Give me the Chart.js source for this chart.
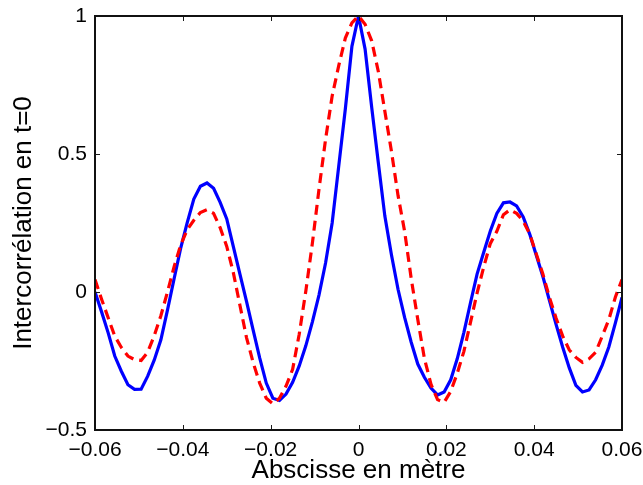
<!DOCTYPE html>
<html>
<head>
<meta charset="utf-8">
<script src="https://cdn.jsdelivr.net/npm/chart.js@4.4.1/dist/chart.umd.min.js"></script>
<style>
  body { margin: 0; background: #fff; }
  #wrap { width: 643px; height: 485px; }
</style>
</head>
<body>
<div id="wrap"><canvas id="myChart" width="643" height="485"></canvas></div>
<script>
// abscissa samples (m), one every 0.0015
var xValues = [];
for (var k = 0; k <= 80; k++) xValues.push(-0.06 + k * 0.0015);

// blue solid curve
var blueValues = [
  0.0, -0.072, -0.148, -0.232, -0.287, -0.336, -0.353, -0.352, -0.305, -0.246,
  -0.173, -0.066, 0.047, 0.158, 0.251, 0.337, 0.383, 0.395, 0.376, 0.325,
  0.265, 0.164, 0.065, -0.034, -0.137, -0.239, -0.330, -0.385, -0.393, -0.370,
  -0.327, -0.268, -0.195, -0.108, -0.011, 0.105, 0.250, 0.456, 0.663, 0.890,
  1.0, 0.880, 0.670, 0.470, 0.275, 0.135, 0.010, -0.092, -0.182, -0.261,
  -0.309, -0.348, -0.373, -0.362, -0.318, -0.241, -0.146, -0.039, 0.065, 0.143,
  0.220, 0.285, 0.323, 0.326, 0.312, 0.272, 0.209, 0.132, 0.055, -0.032,
  -0.118, -0.200, -0.275, -0.338, -0.362, -0.355, -0.318, -0.265, -0.199, -0.112,
  -0.020
];

// red dashed curve
var redValues = [
  0.045, -0.026, -0.093, -0.160, -0.201, -0.232, -0.245, -0.248, -0.218, -0.158,
  -0.086, 0.0, 0.091, 0.170, 0.226, 0.260, 0.288, 0.298, 0.285, 0.233,
  0.165, 0.070, -0.048, -0.165, -0.255, -0.330, -0.385, -0.405, -0.385, -0.341,
  -0.280, -0.153, 0.003, 0.177, 0.372, 0.553, 0.710, 0.820, 0.920, 0.975,
  1.0, 0.970, 0.910, 0.800, 0.655, 0.510, 0.350, 0.220, 0.049, -0.100,
  -0.240, -0.334, -0.390, -0.400, -0.360, -0.294, -0.215, -0.110, -0.004, 0.090,
  0.175, 0.220, 0.280, 0.298, 0.285, 0.257, 0.210, 0.137, 0.064, -0.021,
  -0.095, -0.160, -0.210, -0.237, -0.255, -0.242, -0.218, -0.160, -0.100, -0.018,
  0.045
];

function toPoints(ys) {
  return xValues.map(function (x, i) { return { x: x, y: ys[i] }; });
}

function fmt(v) {
  var s = Number(v.toFixed(2)).toString();
  return s.replace('-', '\u2212');
}

// box around the plot with inward ticks, like matlab
var boxPlugin = {
  id: 'box',
  afterDraw: function (chart) {
    var ctx = chart.ctx;
    var a = chart.chartArea;
    var xs = chart.scales.x, ys = chart.scales.y;
    var len = 5;
    ctx.save();
    ctx.strokeStyle = '#1a1a1a';
    ctx.lineWidth = 1;
    ctx.beginPath();
    xs.ticks.forEach(function (t) {
      var px = Math.round(xs.getPixelForValue(t.value)) + 0.5;
      ctx.moveTo(px, a.bottom); ctx.lineTo(px, a.bottom - len);
      ctx.moveTo(px, a.top); ctx.lineTo(px, a.top + len);
    });
    ys.ticks.forEach(function (t) {
      var py = Math.round(ys.getPixelForValue(t.value)) + 0.5;
      ctx.moveTo(a.left, py); ctx.lineTo(a.left + len, py);
      ctx.moveTo(a.right, py); ctx.lineTo(a.right - len, py);
    });
    ctx.stroke();
    ctx.lineWidth = 2;
    ctx.strokeStyle = '#111';
    ctx.strokeRect(a.left, a.top, a.right - a.left, a.bottom - a.top);
    ctx.restore();
  }
};

var tickFont = { family: 'Liberation Sans', size: 21 };
var titleFont = { family: 'Liberation Sans', size: 26 };

new Chart(document.getElementById('myChart'), {
  type: 'line',
  data: {
    datasets: [
      {
        data: toPoints(redValues),
        borderColor: '#ff0000',
        borderWidth: 3.2,
        borderDash: [10, 6],
        pointRadius: 0,
        tension: 0,
        fill: false
      },
      {
        data: toPoints(blueValues),
        borderColor: '#0000ff',
        borderWidth: 3.2,
        pointRadius: 0,
        tension: 0,
        fill: false
      }
    ]
  },
  options: {
    responsive: false,
    animation: false,
    events: [],
    layout: { padding: { left: 0, right: 21, top: 16, bottom: 0 } },
    plugins: { legend: { display: false }, tooltip: { enabled: false } },
    scales: {
      x: {
        type: 'linear',
        min: -0.06,
        max: 0.06,
        grid: { display: false, drawTicks: false },
        border: { display: false },
        ticks: {
          stepSize: 0.02,
          maxRotation: 0,
          autoSkip: false,
          padding: 8,
          color: '#000',
          font: tickFont,
          callback: fmt
        },
        title: {
          display: true,
          text: 'Abscisse en mètre',
          color: '#000',
          font: titleFont,
          padding: { top: 0, bottom: -1 }
        },
        afterFit: function (s) {
          s.height = 55;
          s.paddingLeft = 0;
          s.paddingRight = 0;
        }
      },
      y: {
        type: 'linear',
        min: -0.5,
        max: 1,
        grid: { display: false, drawTicks: false },
        border: { display: false },
        ticks: {
          stepSize: 0.5,
          padding: 8,
          color: '#000',
          font: tickFont,
          callback: fmt
        },
        title: {
          display: true,
          text: 'Intercorrélation en t=0',
          color: '#000',
          font: titleFont,
          padding: { top: 8, bottom: 0 }
        },
        afterFit: function (s) {
          s.width = 95;
          s.paddingTop = 0;
          s.paddingBottom = 0;
        }
      }
    }
  },
  plugins: [boxPlugin]
});
</script>
</body>
</html>
